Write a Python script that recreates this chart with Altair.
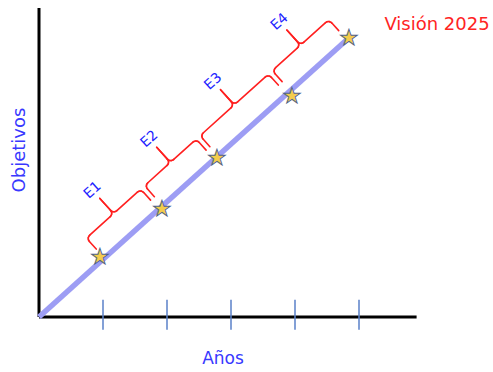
import math
import altair as alt
import pandas as pd

# Milestones along the roadmap (x = años, y = objetivos)
star_years = [0.95, 1.92, 2.78, 3.95, 4.84]
star_goals = [0.94, 1.69, 2.48, 3.45, 4.36]
stage_labels = ["E1", "E2", "E3", "E4"]
tick_years = [1, 2, 3, 4, 5]
vision_label = "Visión 2025"
x_title = "Años"
y_title = "Objetivos"

# Scale extents (one unit = one year on both axes)
X_DOMAIN = [-39 / 64, (493 - 39) / 64]
Y_DOMAIN = [-(372 - 317) / 64, 317 / 64]
AXIS_X_END = 5.9
AXIS_Y_END = 4.83

# Direction of the trend line and its left-hand normal
end_x, end_y = star_years[-1], star_goals[-1]
length = math.hypot(end_x, end_y)
dx, dy = end_x / length, end_y / length
nx, ny = -dy, dx


def local(s, p):
    """Point at distance s along the trend line, offset p to its upper-left."""
    return s * dx + p * nx, s * dy + p * ny


along = [sx * dx + sy * dy for sx, sy in zip(star_years, star_goals)]

# Brace geometry (in axis units)
TIP, MAIN, NOTCH, LABEL, GAP, R = 0.19, 0.42, 0.74, 0.91, 0.04, 0.07


def arc(cx, cy, a0, a1, n=5):
    return [(cx + R * math.cos(a0 + (a1 - a0) * k / n), cy + R * math.sin(a0 + (a1 - a0) * k / n))
            for k in range(1, n + 1)]


seg_rows = []
label_rows = []
for i, name in enumerate(stage_labels):
    a, b = along[i] + GAP, along[i + 1] - GAP
    mid = (a + b) / 2
    pts = [(a, TIP), (a, MAIN - R)]
    pts += arc(a + R, MAIN - R, math.pi, math.pi / 2)
    pts.append((mid - R, MAIN))
    pts += arc(mid - R, MAIN + R, -math.pi / 2, 0)
    pts.append((mid, NOTCH))
    pts.append((mid, MAIN + R))
    pts += arc(mid + R, MAIN + R, math.pi, 3 * math.pi / 2)
    pts.append((b - R, MAIN))
    pts += arc(b - R, MAIN - R, math.pi / 2, 0)
    pts.append((b, TIP))
    xy = [local(s, p) for s, p in pts]
    for (x0, y0), (x1, y1) in zip(xy[:-1], xy[1:]):
        seg_rows.append({"brace": name, "x": x0, "y": y0, "x2": x1, "y2": y1})
    lx, ly = local(mid, LABEL)
    label_rows.append({"label": name, "x": lx, "y": ly})

segments = pd.DataFrame(seg_rows)
labels = pd.DataFrame(label_rows)
stars = pd.DataFrame({"x": star_years, "y": star_goals, "glyph": ["★"] * len(star_years)})
trend = pd.DataFrame({"x": [0.0, end_x], "y": [0.0, end_y]})
ticks = pd.DataFrame({"x": tick_years, "y": [-0.2] * 5, "y2": [0.27] * 5})
axes = pd.DataFrame({"x": [0.0, 0.0], "y": [0.0, 0.0], "x2": [0.0, AXIS_X_END], "y2": [AXIS_Y_END, 0.0]})
vision = pd.DataFrame({"text": [vision_label], "x": [(437 - 39) / 64], "y": [(317 - 25) / 64]})
xtext = pd.DataFrame({"text": [x_title], "x": [(223 - 39) / 64], "y": [(317 - 359) / 64]})
ytext = pd.DataFrame({"text": [y_title], "x": [(20 - 39) / 64], "y": [(317 - 150) / 64]})

xs = alt.Scale(domain=X_DOMAIN, nice=False, zero=False)
ys = alt.Scale(domain=Y_DOMAIN, nice=False, zero=False)


def enc(chart):
    return chart.encode(x=alt.X("x:Q", scale=xs, axis=None), y=alt.Y("y:Q", scale=ys, axis=None))


axis_lines = enc(alt.Chart(axes).mark_rule(color="black", strokeWidth=3)).encode(x2="x2:Q", y2="y2:Q")
tick_marks = enc(alt.Chart(ticks).mark_rule(color="#5a80c8", strokeWidth=1.5)).encode(y2="y2:Q")
trend_line = enc(alt.Chart(trend).mark_line(color="#9d9df4", strokeWidth=5.5))
brace_lines = enc(
    alt.Chart(segments).mark_rule(color="#ff2020", strokeWidth=1.6, strokeCap="round")
).encode(x2="x2:Q", y2="y2:Q")
stage_text = enc(alt.Chart(labels).mark_text(
    font="DejaVu Sans", fontSize=14, color="#2222ff", angle=318, align="center", baseline="middle"
)).encode(text="label:N")
vision_text = enc(alt.Chart(vision).mark_text(
    font="DejaVu Sans", fontSize=18, color="#ff2424", align="center", baseline="middle"
)).encode(text="text:N")
x_text = enc(alt.Chart(xtext).mark_text(
    font="DejaVu Sans", fontSize=17, color="#3838ff", align="center", baseline="middle"
)).encode(text="text:N")
y_text = enc(alt.Chart(ytext).mark_text(
    font="DejaVu Sans", fontSize=18, color="#3838ff", angle=270, align="center", baseline="middle"
)).encode(text="text:N")
star_marks = enc(alt.Chart(stars).mark_text(
    font="DejaVu Sans", fontSize=22, fill="#f4cc4c", stroke="#4f6288", strokeWidth=0.9,
    align="center", baseline="middle"
)).encode(text="glyph:N")

chart = alt.layer(
    axis_lines, tick_marks, trend_line, brace_lines, stage_text, vision_text, x_text, y_text, star_marks
).properties(
    width=493, height=372, padding=0, autosize=alt.AutoSizeParams(type="none")
).configure_view(stroke=None)

chart.save("out.html", embed_options={"renderer": "svg", "actions": False})
